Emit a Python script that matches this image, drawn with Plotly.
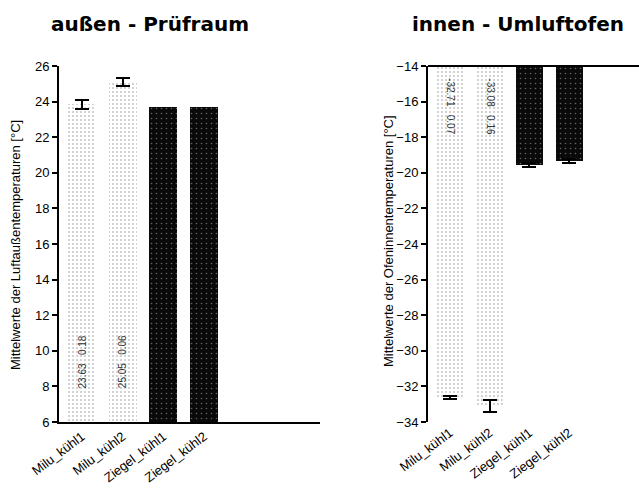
import plotly.graph_objects as go

categories = ["Milu_kühl1", "Milu_kühl2", "Ziegel_kühl1", "Ziegel_kühl2"]

aussen_mean = [23.85, 25.1, 23.72, 23.72]
aussen_err = [0.25, 0.25, 0.0, 0.0]
aussen_labels = ["23.63   0.18", "25.05   0.06"]

innen_mean = [-32.6, -33.1, -19.55, -19.35]
innen_err = [0.08, 0.35, 0.12, 0.12]
innen_labels = ["-32.71   0.07", "-33.08   0.16"]

y_left_ticks = [6, 8, 10, 12, 14, 16, 18, 20, 22, 24, 26]
y_right_ticks = [-14, -16, -18, -20, -22, -24, -26, -28, -30, -32, -34]

xpos = list(range(len(categories)))

light = dict(color="white", line=dict(width=0),
             pattern=dict(shape=".", fgcolor="#8a8a8a", bgcolor="white", size=4, solidity=0.2))
dark = dict(color="black", line=dict(width=0),
            pattern=dict(shape=".", fgcolor="#bdbdbd", bgcolor="#0a0a0a", size=5, solidity=0.08))

fig = go.Figure()

for i in range(4):
    m = light if i < 2 else dark
    fig.add_trace(go.Bar(x=[xpos[i]], y=[aussen_mean[i]], width=0.69, marker=m,
                         error_y=dict(type="data", array=[aussen_err[i]], visible=aussen_err[i] > 0,
                                      color="black", thickness=2, width=7),
                         xaxis="x", yaxis="y", showlegend=False))
    fig.add_trace(go.Bar(x=[xpos[i]], y=[innen_mean[i]], width=0.68, marker=m,
                         error_y=dict(type="data", array=[innen_err[i]], visible=True,
                                      color="black", thickness=2, width=7),
                         xaxis="x2", yaxis="y2", showlegend=False))

font = "Liberation Sans, Arial, sans-serif"
tfont = "DejaVu Sans, sans-serif"

for i, t in enumerate(aussen_labels):
    fig.add_annotation(x=xpos[i], y=9.4, xref="x", yref="y", text=t, textangle=-90,
                       showarrow=False, font=dict(family=font, size=10, color="#333"))
for i, t in enumerate(innen_labels):
    fig.add_annotation(x=xpos[i], y=-16.3, xref="x2", yref="y2", text=t, textangle=90,
                       showarrow=False, font=dict(family=font, size=10, color="#333"))

# top line of right panel
fig.add_shape(type="line", xref="x2 domain", yref="y2 domain", x0=0, x1=1, y0=1, y1=1,
              line=dict(color="black", width=2))

axis_common = dict(showgrid=False, zeroline=False, showline=True, linecolor="black", linewidth=2,
                   ticks="outside", ticklen=5, tickwidth=1.5, tickcolor="black", automargin=False,
                   tickfont=dict(family=font, size=13, color="black"))

fig.update_layout(
    width=639, height=495,
    margin=dict(l=0, r=0, t=0, b=0, autoexpand=False),
    paper_bgcolor="white", plot_bgcolor="white",
    bargap=0,
    xaxis=dict(domain=[59 / 639, 320 / 639], range=[-0.565, 5.85], tickvals=xpos, ticktext=categories,
               tickangle=-37, anchor="y", showgrid=False, zeroline=False, showline=True,
               linecolor="black", linewidth=2, ticks="", automargin=False,
               tickfont=dict(family=font, size=13, color="black")),
    yaxis=dict(domain=[1 - 422 / 495, 1 - 66 / 495], range=[6, 26], tickvals=y_left_ticks,
               anchor="x", **axis_common),
    xaxis2=dict(domain=[428 / 639, 1.0], range=[-0.55, 4.76], tickvals=xpos, ticktext=categories,
                tickangle=-37, anchor="y2", showgrid=False, zeroline=False, showline=False, ticks="",
                automargin=False,
                tickfont=dict(family=font, size=13, color="black")),
    yaxis2=dict(domain=[1 - 422 / 495, 1 - 66 / 495], range=[-34, -14], tickvals=y_right_ticks,
                anchor="x2", **axis_common),
    annotations=list(fig.layout.annotations) + [
        dict(text="<b>außen - Prüfraum</b>", x=150 / 639, y=1 - 24 / 495, xref="paper", yref="paper",
             yanchor="middle", xanchor="center", showarrow=False,
             font=dict(family=tfont, size=20, color="black")),
        dict(text="<b>innen - Umluftofen</b>", x=518 / 639, y=1 - 24 / 495, xref="paper", yref="paper",
             yanchor="middle", xanchor="center", showarrow=False,
             font=dict(family=tfont, size=20, color="black")),
        dict(text="Mittelwerte der Luftaußentemperaturen [°C]", textangle=-90,
             x=15 / 639, y=1 - 245 / 495, xref="paper", yref="paper",
             xanchor="center", yanchor="middle", showarrow=False,
             font=dict(family=font, size=13, color="black")),
        dict(text="Mittelwerte der Ofeninnentemperaturen [°C]", textangle=-90,
             x=388 / 639, y=1 - 241 / 495, xref="paper", yref="paper",
             xanchor="center", yanchor="middle", showarrow=False,
             font=dict(family=font, size=13, color="black")),
    ],
)

fig.write_html("out.html", config={"displayModeBar": False},
               post_script="document.body.style.margin='0';document.body.style.overflow='hidden';")
